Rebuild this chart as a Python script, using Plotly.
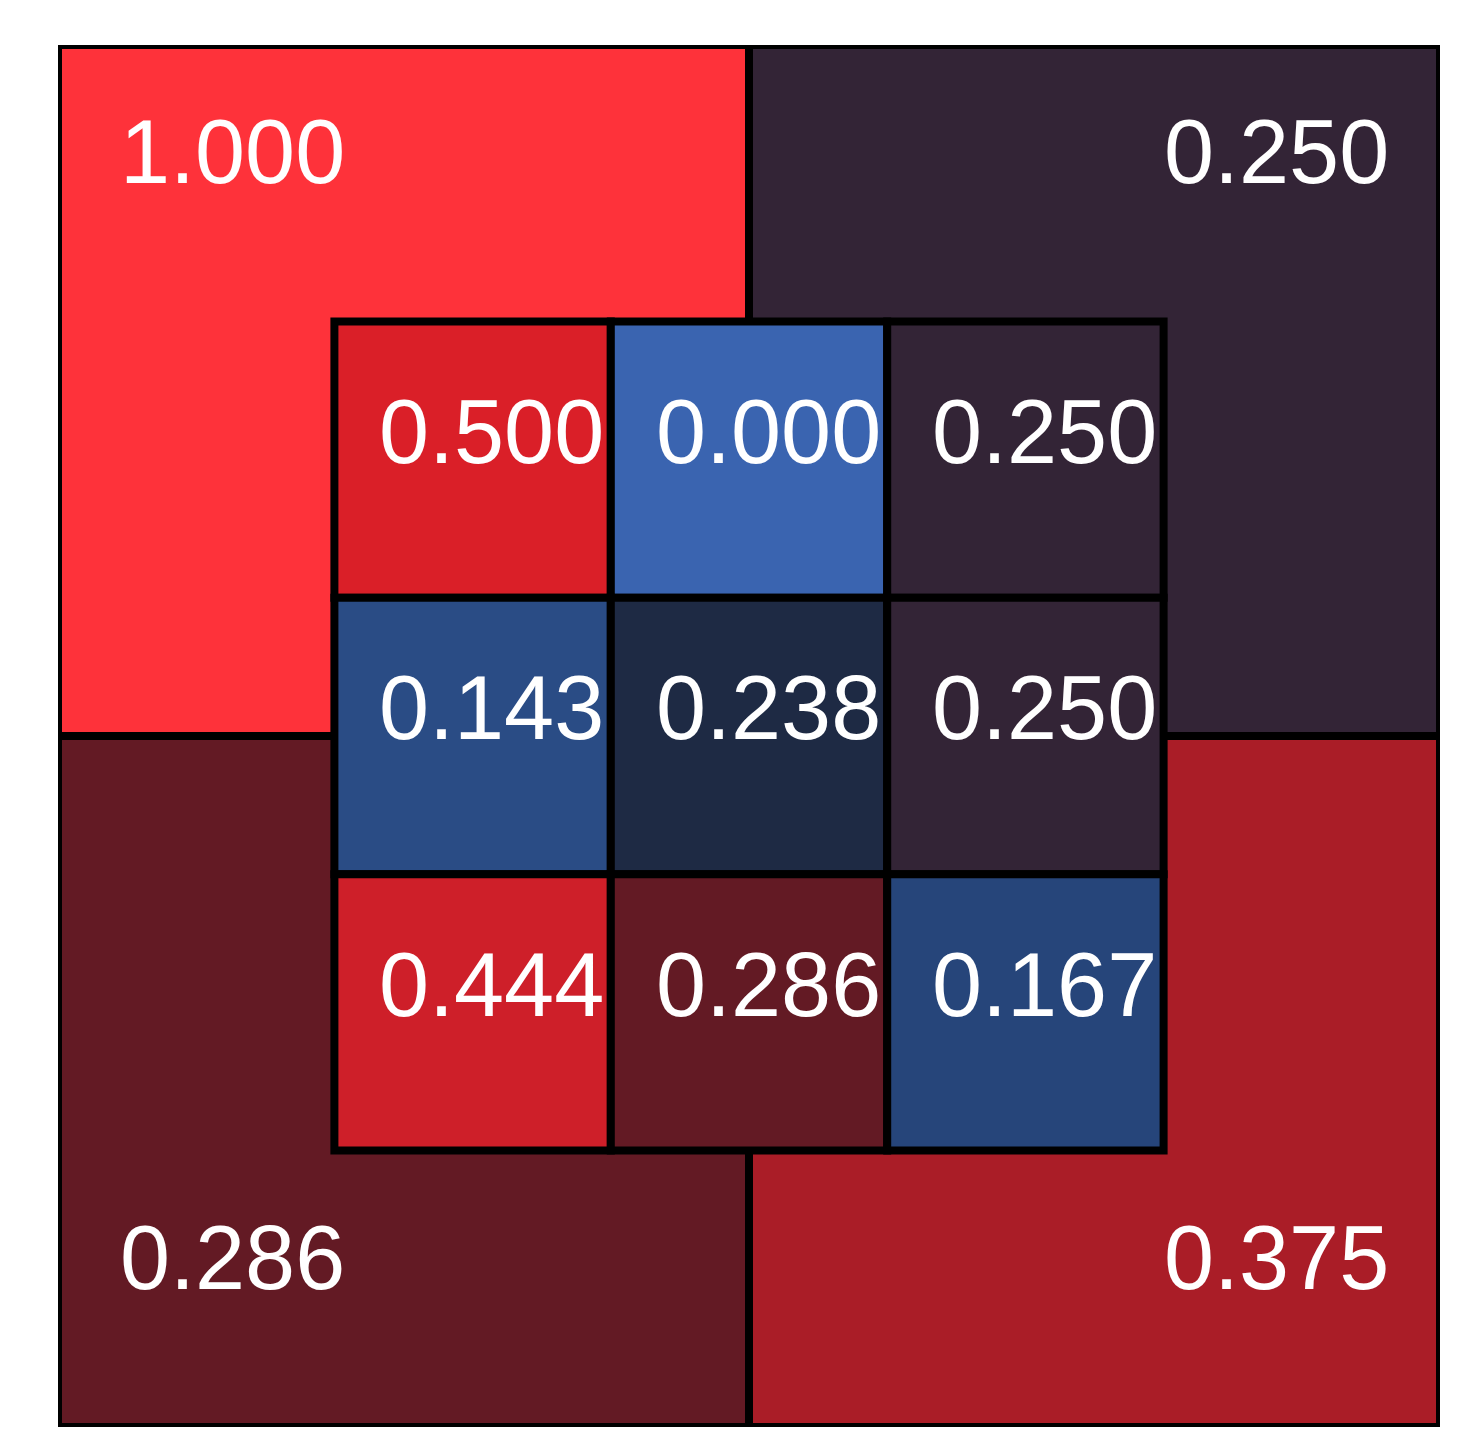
import plotly.graph_objects as go
from plotly.colors import sample_colorscale

# ---- data ----
outer_values = [[1.000, 0.250],
                [0.286, 0.375]]          # rows listed top to bottom
inner_values = [[0.500, 0.000, 0.250],
                [0.143, 0.238, 0.250],
                [0.444, 0.286, 0.167]]   # rows listed top to bottom

# ---- style ----
COLORSCALE = [
    [0.000, "rgb(58,100,176)"],
    [0.143, "rgb(42,76,133)"],
    [0.167, "rgb(38,69,122)"],
    [0.238, "rgb(30,42,68)"],
    [0.250, "rgb(51,36,54)"],
    [0.286, "rgb(99,26,36)"],
    [0.375, "rgb(170,29,39)"],
    [0.444, "rgb(206,31,41)"],
    [0.500, "rgb(218,31,40)"],
    [1.000, "rgb(254,50,58)"],
]
FONT = dict(family="Liberation Sans, Arial, sans-serif", size=90, color="white")
LINE_W = 8

fig = go.Figure()
annotations = []


def add_grid(values, x0, top, size, label_pos):
    for r, row in enumerate(values):
        for c, v in enumerate(row):
            xl = x0 + c * size
            xr = xl + size
            yt = top - r * size
            yb = yt - size
            col = sample_colorscale(COLORSCALE, [v])[0]
            fig.add_trace(go.Scatter(
                x=[xl, xr, xr, xl, xl, xr], y=[yb, yb, yt, yt, yb, yb],
                mode="lines", fill="toself", fillcolor=col,
                line=dict(color="black", width=LINE_W),
                hoverinfo="text", text=f"{v:.3f}", showlegend=False))
            tx, ty = label_pos(r, c, xl, xr, yb, yt)
            annotations.append(dict(x=tx, y=ty, text=f"{v:.3f}", showarrow=False,
                                    xanchor="center", yanchor="middle", font=FONT))


def outer_label(r, c, xl, xr, yb, yt):
    tx = xl + (0.252 if c == 0 else 0.763) * (xr - xl)
    ty = yb + (0.845 if r == 0 else 0.245) * (yt - yb)
    return tx, ty


def inner_label(r, c, xl, xr, yb, yt):
    return (xl + xr) / 2 + 0.0275, (yb + yt) / 2 + 0.04


add_grid(outer_values, 0.0, 2.0, 1.0, outer_label)
add_grid(inner_values, 0.4, 1.6, 0.4, inner_label)

fig.update_layout(
    width=1460, height=1447,
    margin=dict(l=50, r=28, t=37, b=28),
    paper_bgcolor="white", plot_bgcolor="white",
    xaxis=dict(range=[0, 2], visible=False, fixedrange=True),
    yaxis=dict(range=[0, 2], visible=False, fixedrange=True),
    annotations=annotations,
    showlegend=False,
)

fig.write_html("out.html")
